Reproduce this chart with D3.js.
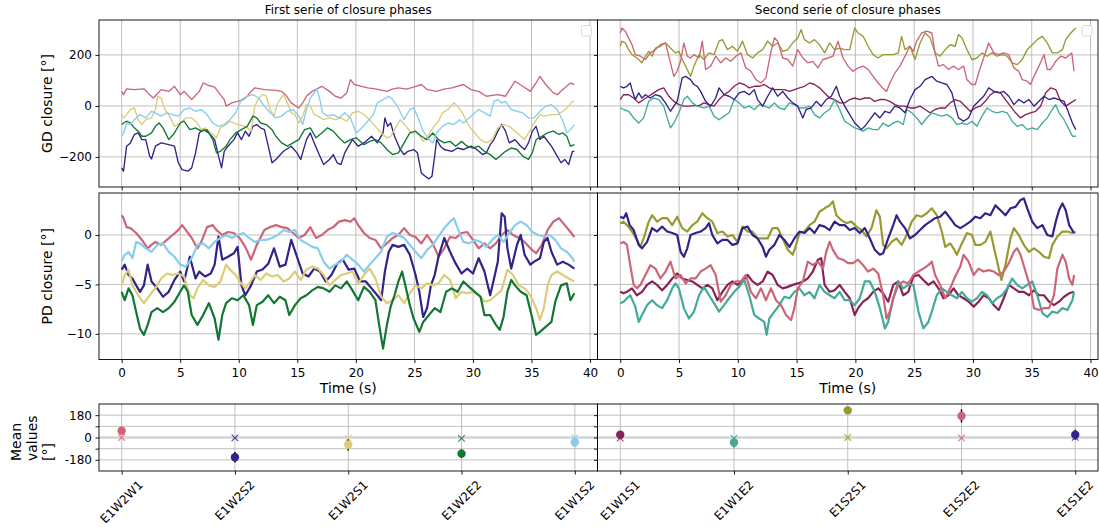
<!DOCTYPE html>
<html><head><meta charset="utf-8">
<script src="https://cdn.jsdelivr.net/npm/d3@7"></script>
<style>body{margin:0;background:#fff}svg text{font-family:"DejaVu Sans",sans-serif}</style>
</head><body>
<script>
// ---------------- DATA ----------------
const titles = ["First serie of closure phases", "Second serie of closure phases"];
const catsL = ["E1W2W1","E1W2S2","E1W2S1","E1W2E2","E1W1S2"];
const catsR = ["E1W1S1","E1W1E2","E1S2S1","E1S2E2","E1S1E2"];
const colorsL = ["#CC6677","#332288","#DDCC77","#117733","#88CCEE"];
const colorsR = ["#882255","#44AA99","#999933","#CC6677","#332288"];
const timeTicks = [0,5,10,15,20,25,30,35,40];
const gdTicks = [-200,0,200];
const pdTicks = [-10,-5,0];
const meanTicks = [-180,-90,0,90,180];
const meanTickLabels = ["-180","","0","","180"];

// GD closure [deg], first serie  ([time s, value])
const gdL_E1W2W1 = [[0,57],[0.16,44],[0.42,67],[1.08,64],[1.9,67],[2.39,44],[2.71,31],[3.37,64],[4.02,57],[4.51,77],[5.0,44],[5.33,57],[5.98,25],[6.63,57],[6.96,90],[7.45,80],[7.94,74],[8.43,44],[8.76,25],[8.92,-1],[9.41,12],[9.9,18],[10.39,25],[10.72,38],[11.05,57],[11.37,71],[12.19,64],[13.17,61],[13.66,57],[13.99,44],[14.48,12],[15.13,-8],[15.46,12],[15.78,38],[16.27,57],[17.09,77],[17.75,57],[18.24,38],[18.73,31],[19.22,51],[19.54,103],[19.87,84],[20.4,78],[21.01,71],[21.5,68],[21.99,64],[22.65,57],[23.1,66],[23.63,71],[24.3,66],[24.93,74],[25.59,84],[26.08,64],[26.9,57],[27.5,66],[28.2,71],[29.18,84],[29.84,64],[30.49,57],[31.14,38],[32.12,44],[32.78,38],[33.59,97],[34.25,77],[34.9,57],[35.39,90],[35.72,116],[36.21,84],[36.86,51],[37.19,44],[37.84,71],[38.33,90],[38.66,84]];
const gdL_E1W2S2 = [[0,-243],[0.16,-256],[0.42,-158],[0.75,-145],[1.08,-112],[1.41,-106],[1.73,-132],[2.06,-132],[2.39,-197],[2.55,-208],[2.88,-158],[3.37,-145],[4.02,-152],[4.51,-158],[4.84,-223],[5.16,-250],[5.65,-256],[5.98,-243],[6.31,-184],[6.63,-106],[6.96,-93],[7.45,-106],[7.94,-132],[8.27,-197],[8.53,-243],[8.76,-178],[9.08,-158],[9.58,-132],[9.9,-106],[10.23,-132],[10.56,-99],[10.88,-119],[11.21,-80],[11.54,-73],[11.86,-86],[12.19,-93],[12.52,-158],[12.84,-223],[13.17,-210],[13.82,-178],[14.48,-158],[14.97,-184],[15.29,-210],[15.78,-132],[16.11,-106],[16.44,-145],[16.93,-197],[17.25,-230],[17.75,-210],[18.07,-191],[18.4,-223],[18.73,-230],[19.05,-184],[19.38,-158],[19.71,-132],[20.2,-158],[20.69,-145],[21.34,-119],[21.83,-145],[22.32,-106],[22.48,-47],[22.71,-80],[22.97,-67],[23.3,-119],[23.79,-171],[24.12,-191],[24.44,-178],[24.93,-171],[25.26,-184],[25.59,-263],[25.92,-276],[26.24,-286],[26.5,-276],[26.73,-197],[26.9,-132],[27.22,-158],[27.55,-171],[28.2,-178],[28.69,-165],[29.18,-171],[29.84,-158],[30.33,-171],[30.82,-191],[31.14,-184],[31.47,-152],[31.8,-132],[32.12,-99],[32.45,-73],[32.78,-99],[33.1,-145],[33.59,-132],[34.08,-158],[34.41,-171],[34.74,-145],[35.07,-99],[35.39,-80],[35.72,-132],[36.05,-119],[36.7,-158],[37.19,-197],[37.52,-223],[37.84,-210],[38.17,-230],[38.5,-178],[38.66,-178]];
const gdL_E1W2S1 = [[0,-34],[0.16,-47],[0.42,-34],[0.75,-14],[1.08,-8],[1.41,-54],[1.73,-73],[2.06,-54],[2.55,-47],[2.88,-14],[3.1,38],[3.37,31],[3.69,-14],[4.02,-34],[4.51,-80],[5.0,-67],[5.49,-47],[5.98,-47],[6.47,-67],[6.8,-93],[7.12,-86],[7.45,-99],[7.78,-112],[8.1,-125],[8.43,-86],[8.92,-73],[9.25,-60],[9.9,-73],[10.56,-80],[11.05,-99],[11.37,-1],[11.7,31],[12.03,44],[12.35,38],[12.68,-14],[13.01,-40],[13.33,12],[13.82,44],[14.15,12],[14.48,-27],[14.8,-34],[15.13,-67],[15.46,-40],[15.78,5],[16.11,-1],[16.44,-34],[16.76,-40],[17.25,-54],[17.75,-47],[18.24,-54],[18.73,-47],[19.22,-60],[19.71,-27],[20.2,-21],[20.69,-34],[21.18,-54],[21.67,-80],[22.16,-106],[22.65,-125],[22.97,-119],[23.3,-93],[23.79,-54],[24.28,-80],[24.77,-106],[25.26,-106],[25.75,-139],[26.08,-125],[26.57,-86],[27.06,-60],[27.39,-27],[27.88,-14],[28.37,12],[28.69,-1],[29.18,-34],[29.67,-80],[30.16,-106],[30.65,-132],[31.14,-145],[31.63,-132],[32.12,-86],[32.61,-73],[33.1,-80],[33.59,-99],[34.08,-119],[34.41,-132],[34.74,-106],[35.23,-67],[35.72,-34],[36.05,-40],[36.7,-34],[37.19,-34],[37.68,-21],[38.17,-1],[38.5,18],[38.66,18]];
const gdL_E1W2E2 = [[0,-73],[0.16,-67],[0.42,-60],[0.75,-67],[1.08,-86],[1.41,-99],[1.73,-119],[2.06,-119],[2.55,-106],[2.88,-80],[3.2,-67],[3.53,-86],[4.02,-132],[4.51,-106],[5.0,-67],[5.33,-60],[5.82,-93],[6.31,-86],[6.8,-99],[7.29,-93],[7.78,-132],[8.1,-184],[8.43,-178],[8.92,-158],[9.25,-132],[9.74,-106],[10.23,-93],[10.72,-80],[11.21,-40],[11.54,-47],[11.86,-67],[12.35,-73],[12.84,-93],[13.17,-119],[13.66,-145],[14.15,-158],[14.64,-145],[15.13,-132],[15.62,-93],[16.11,-86],[16.6,-125],[17.09,-106],[17.58,-86],[18.07,-99],[18.56,-125],[19.05,-145],[19.54,-132],[20.03,-125],[20.69,-152],[21.18,-139],[21.67,-132],[22.16,-145],[22.65,-171],[23.14,-191],[23.63,-184],[24.12,-145],[24.61,-106],[25.1,-99],[25.59,-119],[26.08,-132],[26.57,-106],[27.06,-132],[27.55,-145],[28.04,-139],[28.53,-158],[29.02,-139],[29.51,-158],[30.0,-165],[30.49,-158],[30.98,-178],[31.47,-191],[31.96,-210],[32.29,-197],[32.78,-178],[33.27,-165],[33.76,-171],[34.25,-197],[34.74,-210],[35.07,-184],[35.39,-132],[35.88,-119],[36.37,-106],[36.86,-99],[37.35,-112],[37.68,-106],[38.01,-119],[38.33,-158],[38.66,-152]];
const gdL_E1W1S2 = [[0,-119],[0.16,-106],[0.42,-67],[0.75,-73],[1.08,-54],[1.57,-34],[2.06,-47],[2.55,-21],[2.88,-27],[3.37,-40],[3.86,-27],[4.35,-34],[4.84,-40],[5.33,-14],[5.82,-8],[6.31,-21],[6.8,-14],[7.29,-34],[7.78,-67],[8.27,-80],[8.76,-73],[9.25,-54],[9.74,-27],[10.23,25],[10.72,38],[11.21,44],[11.7,31],[12.19,-1],[12.68,-27],[13.17,-47],[13.66,-40],[14.15,-21],[14.64,-14],[15.13,-40],[15.46,-73],[15.78,-14],[16.11,31],[16.44,51],[16.67,67],[16.93,25],[17.16,-27],[17.58,-40],[18.07,-34],[18.56,-47],[19.05,-27],[19.54,-47],[20.03,-106],[20.52,-86],[21.01,-60],[21.5,-34],[21.83,12],[22.32,25],[22.81,38],[23.14,25],[23.63,-8],[24.12,-54],[24.61,-14],[24.93,-8],[25.26,-40],[25.75,-99],[26.24,-132],[26.57,-145],[26.9,-106],[27.39,-80],[27.88,-67],[28.37,-73],[28.86,-54],[29.18,-67],[29.51,-54],[30.0,-34],[30.49,-14],[30.98,-27],[31.47,-40],[31.8,18],[32.12,25],[32.45,12],[32.78,18],[33.27,-14],[33.76,-21],[34.25,-27],[34.74,-47],[35.23,-47],[35.72,-21],[36.21,-1],[36.7,5],[37.19,-14],[37.68,-60],[38.01,-106],[38.33,-93],[38.66,-73]];

// GD closure [deg], second serie
const gdR_E1W1S1 = [[0,25],[0.28,44],[0.71,44],[1.14,31],[1.57,12],[1.99,25],[2.42,38],[2.85,51],[3.28,64],[3.7,71],[4.13,38],[4.56,18],[4.99,5],[5.41,-1],[5.84,-1],[6.27,1],[6.7,1],[7.12,12],[7.55,5],[7.98,-1],[8.4,25],[8.83,44],[9.26,57],[9.69,77],[10.11,90],[10.54,84],[10.97,71],[11.4,77],[11.82,77],[12.25,84],[12.68,71],[13.11,64],[13.53,64],[13.96,64],[14.39,57],[14.81,64],[15.24,71],[15.67,77],[16.1,90],[16.52,84],[16.95,71],[17.38,51],[17.81,31],[18.23,25],[18.66,12],[19.09,12],[19.52,25],[19.94,31],[20.37,25],[20.8,31],[21.23,31],[21.65,18],[22.08,25],[22.51,25],[22.93,18],[23.36,5],[23.79,-1],[24.22,-1],[24.64,-8],[25.07,-8],[25.5,-1],[25.93,-14],[26.35,-27],[26.78,-14],[27.21,-8],[27.64,-8],[28.06,12],[28.49,25],[28.92,18],[29.34,-1],[29.77,-21],[30.2,-8],[30.63,-1],[31.05,18],[31.48,44],[31.91,57],[32.34,51],[32.76,25],[33.19,-1],[33.62,-27],[34.05,-47],[34.47,-34],[34.9,-27],[35.33,-21],[35.75,-1],[36.18,51],[36.61,71],[37.04,64],[37.46,18],[37.89,-1],[38.32,12],[38.75,25]];
const gdR_E1W1E2 = [[0,-8],[0.28,-14],[0.71,-21],[1.14,-47],[1.57,-67],[1.99,-47],[2.42,18],[2.85,31],[3.28,25],[3.7,-1],[3.99,-47],[4.27,-86],[4.56,-67],[4.99,-27],[5.41,25],[5.7,38],[6.13,12],[6.55,-1],[7.12,-8],[7.55,-1],[7.98,-40],[8.4,-54],[8.83,-40],[9.26,-27],[9.69,25],[10.11,12],[10.54,-8],[10.97,-1],[11.4,-14],[11.82,5],[12.25,-1],[12.68,-8],[13.11,12],[13.53,-8],[13.96,-14],[14.39,12],[14.81,5],[15.24,-8],[15.67,-8],[16.1,-1],[16.52,-34],[16.95,-47],[17.38,-27],[17.81,-14],[18.23,25],[18.66,-14],[19.09,-60],[19.52,-73],[19.94,-86],[20.37,-93],[20.66,-99],[21.08,-86],[21.51,-93],[21.94,-93],[22.36,-67],[22.79,-80],[23.22,-67],[23.65,-60],[24.07,-73],[24.36,-14],[24.79,-27],[25.21,-47],[25.64,-73],[26.07,-47],[26.5,-27],[26.92,-34],[27.35,-40],[27.78,-34],[28.21,-47],[28.63,-73],[29.06,-67],[29.49,-73],[29.91,-60],[30.34,-80],[30.77,-40],[31.2,-8],[31.62,-21],[32.05,-27],[32.48,-21],[32.91,-27],[33.33,-60],[33.76,-80],[34.19,-73],[34.62,-93],[35.04,-86],[35.47,-93],[35.9,-67],[36.32,-47],[36.75,-14],[37.04,5],[37.32,-27],[37.75,-54],[38.18,-93],[38.46,-119],[38.75,-119]];
const gdR_E1S2S1 = [[0,234],[0.14,254],[0.43,247],[0.71,221],[1.0,201],[1.42,188],[1.85,169],[2.14,195],[2.42,214],[2.71,195],[2.99,227],[3.42,234],[3.85,247],[4.27,227],[4.7,208],[4.99,214],[5.27,182],[5.7,143],[5.98,116],[6.27,156],[6.7,201],[7.12,182],[7.55,208],[7.98,201],[8.4,254],[8.69,260],[9.12,221],[9.54,234],[9.97,214],[10.4,254],[10.83,201],[11.25,188],[11.68,208],[12.11,221],[12.54,254],[12.96,234],[13.39,247],[13.82,214],[14.25,221],[14.67,247],[15.1,267],[15.38,299],[15.67,260],[16.1,247],[16.52,260],[16.95,240],[17.38,208],[17.81,247],[18.23,221],[18.66,227],[19.09,221],[19.52,221],[19.94,306],[20.23,286],[20.66,273],[21.08,234],[21.51,201],[21.94,188],[22.36,201],[22.79,201],[23.22,201],[23.65,208],[23.93,273],[24.22,221],[24.64,234],[25.07,182],[25.5,247],[25.93,286],[26.35,267],[26.78,208],[27.21,195],[27.64,221],[28.06,240],[28.49,234],[28.77,280],[29.06,267],[29.49,221],[29.91,182],[30.34,188],[30.77,208],[31.2,195],[31.62,208],[32.05,195],[32.48,201],[32.91,195],[33.33,169],[33.76,162],[34.19,182],[34.62,221],[35.04,240],[35.47,260],[35.9,273],[36.32,247],[36.75,208],[37.18,208],[37.61,221],[37.89,260],[38.32,286],[38.75,306]];
const gdR_E1S2E2 = [[0,286],[0.14,306],[0.43,293],[0.71,267],[1.0,240],[1.28,201],[1.71,195],[2.14,182],[2.56,208],[2.99,221],[3.42,240],[3.85,247],[4.27,169],[4.56,116],[4.84,136],[5.13,175],[5.41,247],[5.7,195],[5.98,188],[6.27,201],[6.7,188],[6.98,254],[7.26,143],[7.69,156],[8.12,195],[8.55,169],[8.97,188],[9.4,175],[9.83,195],[10.26,208],[10.68,149],[11.11,136],[11.54,103],[11.97,90],[12.39,110],[12.82,214],[13.11,267],[13.39,254],[13.82,188],[14.25,182],[14.67,156],[15.1,221],[15.53,188],[15.95,169],[16.38,175],[16.81,149],[17.24,182],[17.66,188],[18.09,195],[18.52,254],[18.95,188],[19.37,156],[19.8,136],[20.23,149],[20.66,156],[21.08,143],[21.51,116],[21.94,90],[22.36,68],[22.65,57],[22.93,90],[23.36,129],[23.79,156],[24.22,195],[24.64,234],[24.93,214],[25.21,254],[25.64,286],[26.07,293],[26.5,286],[26.78,208],[27.07,156],[27.49,162],[27.92,143],[28.35,156],[28.77,143],[29.2,156],[29.49,103],[29.91,84],[30.2,84],[30.48,129],[30.91,188],[31.34,247],[31.77,208],[32.19,201],[32.62,208],[33.05,201],[33.48,149],[33.9,136],[34.19,103],[34.62,97],[34.9,84],[35.19,116],[35.61,156],[36.04,201],[36.32,143],[36.61,143],[37.04,175],[37.46,195],[37.89,188],[38.4,208],[38.6,136]];
const gdR_E1S1E2 = [[0,77],[0.28,71],[0.57,77],[0.85,90],[1.0,64],[1.28,25],[1.57,51],[1.85,31],[2.14,44],[2.56,31],[2.99,44],[3.42,38],[3.85,12],[4.27,-21],[4.56,-1],[4.84,18],[5.27,110],[5.56,116],[5.98,103],[6.27,84],[6.55,77],[6.84,57],[7.26,18],[7.69,-1],[8.12,31],[8.4,71],[8.83,44],[9.26,38],[9.69,25],[10.11,51],[10.54,57],[10.97,44],[11.4,64],[11.68,25],[12.11,-1],[12.54,38],[12.96,71],[13.39,38],[13.82,57],[14.25,31],[14.67,12],[15.1,-1],[15.53,-47],[15.81,-14],[16.24,-8],[16.67,18],[17.09,-1],[17.52,25],[17.95,38],[18.38,77],[18.66,38],[19.09,-1],[19.52,-34],[19.94,-67],[20.23,-80],[20.51,-93],[20.8,-80],[21.23,-54],[21.65,-27],[22.08,-47],[22.51,-21],[22.93,-27],[23.36,-1],[23.79,-8],[24.22,-27],[24.64,25],[25.07,64],[25.5,77],[25.93,103],[26.5,116],[26.92,97],[27.35,90],[27.78,84],[28.21,51],[28.49,-1],[28.77,-47],[29.2,-60],[29.63,-47],[30.06,-1],[30.48,18],[30.91,38],[31.34,71],[31.77,57],[32.19,51],[32.62,57],[33.05,38],[33.48,5],[33.9,25],[34.33,12],[34.76,25],[35.19,-1],[35.61,18],[36.04,38],[36.47,25],[36.89,31],[37.32,25],[37.75,18],[38.03,-14],[38.46,-67],[38.75,-93]];

// PD closure [deg], first serie
const pdL_E1W2W1 = [[0,2.0],[0.16,1.7],[0.42,0.8],[0.75,0.7],[1.24,0.2],[1.73,-0.5],[2.22,-1.35],[2.55,-1.0],[2.88,-0.7],[3.37,-1.0],[3.86,-0.5],[4.35,0],[4.84,0.5],[5.16,1.0],[5.49,0.5],[5.98,-0.3],[6.47,-1.35],[6.8,-0.7],[7.29,0.8],[7.78,1.0],[8.1,0.5],[8.59,0],[9.08,0.3],[9.58,0.2],[10.07,-0.3],[10.56,-1.2],[11.05,-2.5],[11.54,-1.0],[12.19,0.5],[12.68,0.8],[13.17,1.0],[13.66,0.8],[14.15,0.7],[14.64,0.2],[15.13,-0.3],[15.62,0],[16.11,0.8],[16.6,-0.3],[17.09,0],[17.58,0.5],[18.07,0.8],[18.56,1.35],[19.05,1.5],[19.54,1.35],[19.87,1.7],[20.2,1.0],[20.69,0.2],[21.18,-0.3],[21.67,-0.5],[22.16,-1.35],[22.65,-0.85],[23.14,-0.3],[23.63,0],[24.12,0.7],[24.61,0],[25.1,-0.2],[25.59,-0.85],[26.08,0],[26.57,-0.85],[27.06,-2.2],[27.55,-1.35],[28.04,-0.2],[28.53,-0.3],[29.02,0.2],[29.51,0.3],[30.0,-0.5],[30.49,-1.35],[30.98,-0.85],[31.47,-1.35],[31.96,-0.85],[32.45,0],[32.94,0.5],[33.43,0],[33.92,-0.3],[34.41,-0.7],[34.9,-1.35],[35.39,-1.85],[35.88,-1.0],[36.37,0.5],[36.86,1.35],[37.35,1.7],[37.84,1.0],[38.33,0.3],[38.66,-0.2]];
const pdL_E1W2S2 = [[0,-3.5],[0.26,-3.0],[0.59,-4.05],[0.92,-4.4],[1.24,-5.1],[1.57,-5.75],[1.9,-5.1],[2.22,-3.0],[2.55,-4.7],[3.04,-5.4],[3.53,-6.25],[4.02,-5.75],[4.51,-4.55],[5.0,-3.7],[5.33,-4.7],[5.82,-2.2],[6.31,-4.4],[6.63,-3.7],[7.12,-4.2],[7.61,-3.9],[7.94,-3.0],[8.27,-0.15],[8.59,-2.5],[9.08,-2.2],[9.58,-1.85],[9.9,-1.2],[10.23,-5.1],[10.56,-6.1],[11.05,-5.1],[11.54,-3.7],[12.03,-3.5],[12.52,-2.9],[13.01,-1.35],[13.5,-3.2],[13.99,-3.0],[14.48,-0.5],[14.97,-2.2],[15.46,-3.9],[15.95,-4.2],[16.44,-3.4],[16.93,-3.7],[17.42,-4.7],[17.91,-4.05],[18.4,-2.9],[18.89,-2.5],[19.38,-3.5],[19.87,-3.4],[20.36,-4.7],[20.85,-4.7],[21.34,-5.4],[21.83,-6.1],[22.16,-6.6],[22.48,-3.7],[22.81,-1.7],[23.14,-1.0],[23.63,-1.2],[24.12,-1.0],[24.61,-2.0],[25.1,-4.05],[25.42,-5.75],[25.75,-8.3],[26.08,-7.4],[26.41,-5.1],[26.73,-4.05],[27.06,-2.2],[27.55,-0.3],[28.04,-1.7],[28.53,-2.9],[29.02,-3.9],[29.51,-3.4],[30.0,-3.9],[30.49,-2.35],[30.98,-3.7],[31.47,-6.1],[31.8,-4.4],[32.12,-2.7],[32.45,2.2],[32.71,1.85],[32.94,-1.35],[33.27,-3.4],[33.76,-1.0],[34.08,0],[34.41,-2.0],[34.9,-3.0],[35.23,-2.7],[35.72,-2.35],[36.05,-0.7],[36.37,-0.3],[36.7,-1.7],[37.19,-3.0],[37.68,-2.7],[38.17,-3.0],[38.66,-3.4]];
const pdL_E1W2S1 = [[0,-5.1],[0.26,-4.05],[0.59,-3.5],[0.92,-5.1],[1.41,-6.1],[1.9,-6.9],[2.39,-6.1],[2.88,-5.4],[3.37,-4.4],[3.86,-3.9],[4.35,-4.05],[4.84,-3.9],[5.33,-4.2],[5.82,-6.1],[6.14,-6.4],[6.47,-5.4],[6.96,-4.55],[7.45,-5.1],[7.94,-5.25],[8.43,-4.7],[8.92,-3.0],[9.25,-3.5],[9.74,-4.05],[10.07,-4.7],[10.56,-5.4],[10.88,-4.9],[11.37,-4.05],[11.86,-4.55],[12.35,-3.9],[12.84,-4.2],[13.33,-4.05],[13.82,-4.7],[14.31,-4.4],[14.8,-3.7],[15.29,-4.55],[15.78,-3.5],[16.27,-3.2],[16.76,-3.4],[17.25,-4.05],[17.75,-5.1],[18.24,-4.55],[18.73,-4.05],[19.22,-3.9],[19.71,-3.7],[20.2,-4.9],[20.69,-4.05],[21.18,-3.4],[21.67,-4.4],[22.16,-6.25],[22.65,-6.9],[23.14,-6.6],[23.63,-6.1],[24.12,-6.9],[24.61,-5.9],[25.1,-5.1],[25.59,-5.4],[26.08,-4.9],[26.57,-5.1],[27.06,-4.9],[27.55,-4.05],[28.04,-4.55],[28.53,-6.4],[29.02,-5.75],[29.51,-5.9],[30.0,-5.75],[30.49,-6.1],[30.98,-6.75],[31.47,-6.6],[31.96,-6.1],[32.45,-5.6],[32.94,-3.5],[33.43,-4.05],[33.92,-5.1],[34.41,-5.4],[34.9,-6.1],[35.39,-7.4],[35.72,-8.6],[36.05,-7.4],[36.37,-5.1],[36.7,-4.05],[37.19,-3.7],[37.68,-4.05],[38.17,-4.4],[38.66,-4.7]];
const pdL_E1W2E2 = [[0,-5.75],[0.26,-6.6],[0.59,-5.4],[0.92,-6.1],[1.24,-7.8],[1.57,-9.5],[1.9,-10.1],[2.22,-9.1],[2.55,-7.8],[3.04,-7.4],[3.53,-7.8],[4.02,-7.4],[4.51,-6.75],[5.0,-5.75],[5.33,-5.1],[5.65,-5.75],[5.98,-8.1],[6.47,-9.1],[6.96,-8.1],[7.45,-6.9],[7.94,-8.45],[8.27,-10.6],[8.59,-8.1],[8.92,-6.9],[9.41,-6.4],[9.9,-6.6],[10.39,-6.1],[10.88,-7.1],[11.21,-9.1],[11.54,-7.1],[12.03,-6.75],[12.52,-6.1],[13.01,-6.9],[13.5,-6.25],[13.99,-6.6],[14.31,-8.1],[14.8,-7.1],[15.29,-6.4],[15.78,-6.1],[16.27,-5.6],[16.76,-5.25],[17.25,-5.4],[17.75,-5.75],[18.24,-5.1],[18.73,-5.4],[19.22,-4.7],[19.71,-5.6],[20.2,-6.6],[20.69,-5.25],[21.18,-5.75],[21.67,-6.6],[21.99,-9.1],[22.32,-11.5],[22.65,-9.1],[22.97,-7.25],[23.3,-6.1],[23.63,-4.7],[23.95,-3.7],[24.28,-5.4],[24.61,-7.1],[24.93,-8.45],[25.42,-9.8],[25.75,-8.8],[26.24,-8.1],[26.73,-7.4],[27.22,-7.8],[27.71,-5.75],[28.2,-5.4],[28.69,-5.75],[29.18,-4.7],[29.67,-5.25],[30.16,-5.75],[30.65,-6.25],[30.98,-8.1],[31.47,-8.1],[31.96,-9.1],[32.29,-9.6],[32.61,-8.3],[32.94,-5.75],[33.27,-4.55],[33.59,-5.1],[34.08,-5.75],[34.58,-6.1],[35.07,-8.45],[35.39,-10.1],[35.72,-9.8],[36.21,-9.3],[36.7,-8.8],[37.03,-6.75],[37.52,-5.1],[38.01,-4.9],[38.33,-6.6],[38.66,-5.9]];
const pdL_E1W1S2 = [[0,-2.7],[0.26,-2.0],[0.59,-1.7],[0.92,-2.35],[1.24,-0.7],[1.57,-0.85],[2.06,-1.35],[2.55,-1.7],[3.04,-1.0],[3.53,-0.85],[4.02,-1.7],[4.51,-2.2],[5.0,-3.0],[5.49,-3.2],[5.98,-2.35],[6.47,-1.0],[6.96,-0.85],[7.45,-1.35],[7.94,-0.7],[8.43,-0.3],[8.92,0],[9.41,-0.3],[9.9,0],[10.39,0.2],[10.88,-0.3],[11.37,-0.7],[11.86,-0.5],[12.35,-0.5],[12.84,-0.3],[13.33,0],[13.82,0.5],[14.31,0.3],[14.8,0.5],[15.29,-0.5],[15.78,-0.85],[16.27,-1.2],[16.76,-1.35],[17.25,-2.7],[17.75,-3.4],[18.24,-3.0],[18.73,-2.7],[19.22,-2.0],[19.71,-2.5],[20.2,-3.0],[20.69,-3.7],[21.18,-3.0],[21.67,-2.35],[22.16,-1.7],[22.65,-0.15],[23.14,0.2],[23.63,0],[24.12,-0.3],[24.61,-1.0],[25.1,-1.7],[25.59,-2.35],[26.08,-1.5],[26.57,-1.0],[27.06,-0.15],[27.55,0.7],[28.04,1.35],[28.37,1.7],[28.69,0.7],[29.18,-0.7],[29.67,-0.85],[30.16,-0.5],[30.65,-0.7],[31.14,-1.2],[31.63,-0.5],[32.12,0],[32.61,-0.7],[33.1,0.2],[33.59,1.0],[34.08,1.35],[34.58,1.0],[35.07,0.3],[35.56,0],[36.05,-0.15],[36.54,0],[37.03,-0.5],[37.52,-1.35],[38.01,-1.7],[38.5,-2.35],[38.66,-2.7]];

// PD closure [deg], second serie
const pdR_E1W1S1 = [[0,-5.75],[0.28,-5.9],[0.57,-5.75],[1.0,-5.4],[1.42,-6.1],[1.85,-5.75],[2.28,-5.05],[2.71,-4.7],[3.13,-5.05],[3.56,-5.6],[3.99,-5.05],[4.42,-4.4],[4.84,-3.9],[5.27,-4.4],[5.7,-4.55],[6.13,-4.7],[6.55,-5.05],[6.98,-5.4],[7.41,-5.05],[7.83,-5.4],[8.26,-6.6],[8.69,-5.75],[9.12,-5.05],[9.54,-4.7],[9.97,-5.05],[10.4,-4.7],[10.83,-4.05],[11.25,-4.7],[11.68,-5.05],[12.11,-4.7],[12.54,-3.7],[12.96,-4.05],[13.39,-5.05],[13.82,-5.4],[14.25,-5.25],[14.67,-5.05],[15.1,-4.9],[15.53,-4.7],[15.95,-4.4],[16.38,-3.7],[16.81,-2.5],[17.09,-2.35],[17.38,-5.05],[17.81,-5.75],[18.23,-5.6],[18.66,-5.05],[19.09,-5.75],[19.52,-6.4],[19.94,-8.1],[20.23,-7.4],[20.66,-6.75],[21.08,-6.4],[21.51,-5.75],[21.94,-5.4],[22.36,-5.9],[22.79,-6.75],[23.22,-5.05],[23.65,-4.7],[24.07,-6.1],[24.5,-5.75],[24.93,-4.2],[25.36,-4.05],[25.78,-4.55],[26.21,-5.05],[26.64,-4.7],[27.07,-5.4],[27.49,-6.4],[27.92,-6.1],[28.35,-5.4],[28.77,-6.1],[29.2,-6.4],[29.63,-6.75],[30.06,-7.25],[30.48,-6.75],[30.91,-6.1],[31.34,-6.4],[31.77,-7.1],[32.19,-7.6],[32.62,-6.4],[33.05,-5.05],[33.48,-5.4],[33.9,-5.75],[34.33,-5.75],[34.76,-6.1],[35.19,-5.6],[35.61,-6.1],[36.04,-6.1],[36.47,-6.75],[36.89,-7.1],[37.32,-6.75],[37.75,-6.25],[38.18,-5.9],[38.6,-5.75]];
const pdR_E1W1E2 = [[0,-6.9],[0.28,-6.75],[0.57,-6.4],[0.85,-6.1],[1.28,-7.25],[1.57,-8.8],[1.85,-8.1],[2.28,-7.1],[2.71,-6.6],[3.13,-7.1],[3.56,-7.4],[3.99,-6.6],[4.42,-5.4],[4.7,-4.9],[4.99,-5.4],[5.41,-7.4],[5.84,-8.45],[6.27,-7.75],[6.7,-6.1],[7.12,-5.25],[7.55,-6.1],[7.98,-6.9],[8.4,-7.75],[8.83,-7.1],[9.26,-6.4],[9.69,-5.75],[10.11,-5.25],[10.54,-4.55],[10.97,-6.1],[11.4,-8.1],[11.82,-8.45],[12.25,-8.8],[12.45,-10.1],[12.68,-8.45],[13.11,-7.75],[13.53,-7.1],[13.96,-6.25],[14.39,-6.4],[14.81,-5.75],[15.24,-5.4],[15.67,-6.1],[16.1,-5.75],[16.52,-6.4],[16.95,-5.05],[17.38,-5.75],[17.81,-6.1],[18.23,-6.4],[18.66,-5.75],[19.09,-6.6],[19.52,-6.6],[19.94,-7.1],[20.37,-6.4],[20.8,-4.7],[21.23,-4.7],[21.65,-5.75],[22.08,-7.4],[22.51,-9.45],[22.79,-8.8],[23.22,-6.4],[23.65,-4.7],[24.07,-5.4],[24.5,-5.05],[24.93,-5.05],[25.36,-7.75],[25.78,-9.45],[26.21,-8.8],[26.5,-7.75],[26.92,-6.1],[27.35,-5.4],[27.78,-5.75],[28.21,-6.1],[28.63,-6.4],[29.06,-5.75],[29.49,-6.4],[29.91,-6.75],[30.34,-6.4],[30.77,-5.75],[31.2,-6.1],[31.62,-6.9],[32.05,-6.4],[32.48,-6.1],[32.91,-5.4],[33.33,-4.4],[33.76,-5.05],[34.19,-5.4],[34.62,-5.05],[35.04,-4.7],[35.47,-6.1],[35.9,-7.9],[36.32,-8.3],[36.75,-7.75],[37.18,-7.9],[37.61,-7.4],[38.03,-7.6],[38.46,-6.6],[38.6,-5.75]];
const pdR_E1S2S1 = [[0,1.2],[0.28,1.35],[0.57,1.0],[1.0,0.35],[1.42,-0.5],[1.71,-1.2],[1.99,-0.35],[2.42,1.35],[2.71,2.0],[3.13,1.35],[3.56,1.7],[3.99,1.7],[4.42,1.0],[4.84,1.85],[5.27,0.7],[5.7,0.35],[6.13,1.0],[6.55,1.35],[6.98,2.2],[7.41,1.7],[7.83,1.35],[8.26,0.2],[8.69,0.35],[9.12,-0.15],[9.54,0],[9.97,-0.7],[10.4,0.85],[10.83,0.35],[11.25,0.35],[11.68,-0.35],[12.11,-0.35],[12.54,-0.35],[12.96,0.7],[13.39,0.7],[13.82,-0.35],[14.25,-1.5],[14.67,-2.0],[14.96,-1.0],[15.24,0.2],[15.67,0.35],[16.1,1.0],[16.52,1.35],[16.95,2.35],[17.38,2.7],[17.81,3.0],[18.09,3.4],[18.38,2.0],[18.8,1.5],[19.23,1.2],[19.66,1.35],[20.09,0.85],[20.51,0.5],[20.94,-0.15],[21.37,0.7],[21.79,2.5],[22.08,1.85],[22.36,-1.0],[22.65,-1.35],[23.08,-0.7],[23.5,-0.35],[23.93,-1.0],[24.36,0],[24.79,1.35],[25.21,2.0],[25.64,1.85],[26.07,2.2],[26.5,2.7],[26.92,2.0],[27.35,0.35],[27.64,-1.2],[28.06,-0.85],[28.35,-1.35],[28.63,-2.0],[29.06,-0.85],[29.49,0.2],[29.91,0],[30.2,-1.0],[30.63,-1.0],[31.05,-0.7],[31.48,0.35],[31.77,-1.2],[32.19,-3.4],[32.42,-4.55],[32.76,-3.05],[33.19,-0.35],[33.48,0.7],[33.9,0],[34.33,-1.0],[34.76,-1.7],[35.19,-1.35],[35.61,-1.7],[36.04,-2.2],[36.47,-2.35],[36.75,-1.0],[37.18,-0.15],[37.61,0.35],[38.03,0.35],[38.46,0.2],[38.75,0.3]];
const pdR_E1S2E2 = [[0,-0.85],[0.28,-0.7],[0.57,-1.0],[0.85,-3.05],[1.14,-5.05],[1.42,-5.4],[1.71,-5.05],[2.14,-4.05],[2.56,-3.05],[2.99,-3.4],[3.42,-4.4],[3.85,-3.7],[4.27,-2.7],[4.7,-4.4],[5.13,-4.05],[5.56,-4.9],[5.98,-4.4],[6.41,-4.4],[6.84,-3.7],[7.26,-3.4],[7.69,-3.05],[8.12,-4.05],[8.55,-6.75],[8.97,-6.1],[9.4,-5.05],[9.83,-4.7],[10.26,-4.7],[10.68,-4.05],[11.11,-5.75],[11.54,-6.4],[11.97,-5.4],[12.39,-6.6],[12.82,-5.4],[13.25,-6.6],[13.68,-7.1],[14.1,-8.1],[14.53,-8.6],[14.81,-7.4],[15.1,-5.4],[15.53,-4.7],[15.95,-2.7],[16.38,-3.05],[16.81,-2.7],[17.24,-3.4],[17.52,-1.7],[17.81,-0.7],[18.09,-1.5],[18.52,-2.35],[18.95,-2.5],[19.37,-2.85],[19.8,-2.85],[20.23,-2.5],[20.66,-3.05],[21.08,-3.7],[21.51,-3.4],[21.94,-3.9],[22.36,-6.1],[22.65,-8.45],[22.93,-7.75],[23.22,-6.4],[23.65,-5.05],[24.07,-4.7],[24.5,-4.9],[24.93,-4.05],[25.36,-3.7],[25.78,-3.4],[26.21,-3.05],[26.5,-2.7],[26.78,-4.05],[27.21,-5.05],[27.64,-6.4],[28.06,-5.4],[28.49,-4.2],[28.92,-3.2],[29.2,-2.0],[29.63,-2.7],[30.06,-4.05],[30.48,-3.4],[30.91,-3.7],[31.34,-3.55],[31.77,-3.7],[32.19,-4.05],[32.62,-3.7],[33.05,-2.85],[33.48,-1.7],[33.76,-1.35],[34.05,-2.0],[34.47,-3.7],[34.9,-5.4],[35.19,-7.4],[35.61,-7.6],[36.04,-7.4],[36.47,-7.4],[36.89,-6.1],[37.18,-3.4],[37.61,-2.0],[37.89,-2.7],[38.18,-4.4],[38.46,-5.05],[38.6,-4.05]];
const pdR_E1S1E2 = [[0,1.85],[0.28,1.7],[0.51,2.2],[0.8,1.0],[1.14,0.5],[1.57,-1.0],[1.85,-1.35],[2.28,-0.7],[2.71,0.7],[3.13,0.35],[3.56,0.85],[3.99,0.35],[4.42,0.2],[4.84,0],[5.13,-1.7],[5.41,-2.2],[5.7,-1.35],[5.98,0],[6.41,0.2],[6.84,0.35],[7.26,0.7],[7.55,1.2],[7.83,0],[8.26,-0.85],[8.69,-0.5],[9.12,-0.5],[9.54,-1.0],[9.97,-0.85],[10.4,0.7],[10.83,0.85],[11.25,0],[11.68,-0.35],[12.11,-1.2],[12.39,-2.2],[12.68,-1.5],[13.11,-1.0],[13.53,0],[13.96,-0.5],[14.39,-1.2],[14.81,-0.35],[15.24,0.35],[15.67,0.2],[16.1,0.7],[16.52,0.2],[16.95,1.0],[17.38,0.85],[17.81,0.5],[18.23,1.35],[18.66,1.0],[19.09,1.0],[19.52,0.5],[19.94,0.7],[20.37,0.2],[20.8,0.7],[21.23,-0.35],[21.65,-1.5],[22.08,-2.0],[22.36,-1.85],[22.79,-0.35],[23.22,1.0],[23.5,2.0],[23.79,1.35],[24.22,0.7],[24.64,-0.35],[25.07,0],[25.5,0.5],[25.93,1.0],[26.35,1.35],[26.78,1.7],[27.21,1.85],[27.64,2.35],[28.06,1.7],[28.49,1.0],[28.92,0.7],[29.34,1.0],[29.77,1.35],[30.2,1.85],[30.63,1.7],[31.05,2.2],[31.48,2.0],[31.91,3.0],[32.34,2.5],[32.76,2.0],[33.19,2.7],[33.62,2.85],[34.05,3.55],[34.33,3.7],[34.62,2.7],[35.04,1.35],[35.47,0.7],[35.9,1.0],[36.32,0],[36.75,-0.15],[37.04,1.35],[37.32,2.5],[37.61,3.2],[37.89,2.5],[38.18,1.0],[38.6,0.2]];

// Mean values [deg]: GD mean (dot) with error, PD mean (cross)
const gdMeanL = [54,-159,-59,-130,-38];
const gdErrL  = [28,43,45,35,33];
const pdMeanL = [-0.2,-3.2,-5,-7,-1];
const gdMeanR = [22,-40,219,174,22];
const gdErrR  = [28,38,28,53,40];
const pdMeanR = [-5.5,-6.5,0.5,-4,0.8];

// ---------------- LAYOUT ----------------
const W = 1099, H = 527;
const colX = [[99,597.5],[597.5,1098]];
const rowGD = [20,187], rowPD = [193,359.5], rowM = [404,471];
const FONT = '"DejaVu Sans", sans-serif';

const svg = d3.select("body").append("svg").attr("width",W).attr("height",H);
const defs = svg.append("defs");

const seriesGD = [[gdL_E1W2W1,gdL_E1W2S2,gdL_E1W2S1,gdL_E1W2E2,gdL_E1W1S2],[gdR_E1W1S1,gdR_E1W1E2,gdR_E1S2S1,gdR_E1S2E2,gdR_E1S1E2]];
const seriesPD = [[pdL_E1W2W1,pdL_E1W2S2,pdL_E1W2S1,pdL_E1W2E2,pdL_E1W1S2],[pdR_E1W1S1,pdR_E1W1E2,pdR_E1S2S1,pdR_E1S2E2,pdR_E1S1E2]];
const colorSets = [colorsL, colorsR];
const catSets = [catsL, catsR];
const meanSets = [[gdMeanL,gdErrL,pdMeanL],[gdMeanR,gdErrR,pdMeanR]];

const yGD = d3.scaleLinear().domain([-318,337]).range([rowGD[1],rowGD[0]]);
const yPD = d3.scaleLinear().domain([-12.6,4.25]).range([rowPD[1],rowPD[0]]);
const yM  = d3.scaleLinear().domain([-270,270]).range([rowM[1],rowM[0]]);

let clipId = 0;
function panel(x0,x1,y0,y1){
  const id = "clip"+(clipId++);
  defs.append("clipPath").attr("id",id).append("rect").attr("x",x0).attr("y",y0).attr("width",x1-x0).attr("height",y1-y0);
  const g = svg.append("g");
  return {g, clip:"url(#"+id+")"};
}
function styleAxis(sel){
  sel.select(".domain").remove();
  sel.selectAll(".tick line").attr("stroke","#000").attr("stroke-width",0.9);
  sel.selectAll(".tick text").attr("font-family",FONT).attr("font-size",12).attr("fill","#000");
}
function spines(g,x0,x1,y0,y1){
  g.append("rect").attr("x",x0).attr("y",y0).attr("width",x1-x0).attr("height",y1-y0)
    .attr("fill","none").attr("stroke","#000").attr("stroke-width",0.9);
}

[0,1].forEach(c=>{
  const [x0,x1] = colX[c];
  const xT = d3.scaleLinear().domain([-1.935,40.635]).range([x0,x1]);
  const xC = d3.scaleLinear().domain([-0.2,4.2]).range([x0,x1]);

  // ---- time-series panels ----
  [[rowGD,yGD,seriesGD[c],gdTicks,1.35,false],[rowPD,yPD,seriesPD[c],pdTicks,2.2,true]].forEach(([row,y,series,ticks,lw,labels])=>{
    const {g,clip} = panel(x0,x1,row[0],row[1]);
    const grid = g.append("g");
    timeTicks.forEach(t=>grid.append("line").attr("x1",xT(t)).attr("x2",xT(t)).attr("y1",row[0]).attr("y2",row[1]).attr("stroke","#b0b0b0").attr("stroke-width",0.8));
    ticks.forEach(v=>grid.append("line").attr("x1",x0).attr("x2",x1).attr("y1",y(v)).attr("y2",y(v)).attr("stroke","#b0b0b0").attr("stroke-width",0.8));
    const line = d3.line().x(d=>xT(d[0])).y(d=>y(d[1]));
    const lg = g.append("g").attr("clip-path",clip);
    series.forEach((s,i)=>lg.append("path").attr("d",line(s)).attr("fill","none").attr("stroke",colorSets[c][i]).attr("stroke-width",lw).attr("stroke-linejoin","round"));
    spines(g,x0,x1,row[0],row[1]);
    const ax = g.append("g").attr("transform",`translate(0,${row[1]})`)
      .call(d3.axisBottom(xT).tickValues(timeTicks).tickSize(3.5).tickPadding(5.5).tickFormat(labels?d3.format("d"):()=>""));
    styleAxis(ax);
    const ay = g.append("g").attr("transform",`translate(${x0},0)`)
      .call(d3.axisLeft(y).tickValues(ticks).tickSize(3.5).tickPadding(3.5).tickFormat(c===0?d3.format("d"):()=>""));
    styleAxis(ay);
    if(!labels){
      g.append("rect").attr("x",x1-16).attr("y",row[0]+5.5).attr("width",10).attr("height",10.5).attr("rx",2)
        .attr("fill","#fff").attr("stroke","#d6d6d6").attr("stroke-width",0.9);
    }
    if(labels){
      g.append("text").attr("x",(x0+x1)/2).attr("y",393).attr("text-anchor","middle")
        .attr("font-family",FONT).attr("font-size",14).text("Time (s)");
    }
  });

  // title
  svg.append("text").attr("x",(x0+x1)/2).attr("y",14).attr("text-anchor","middle")
    .attr("font-family",FONT).attr("font-size",12).text(titles[c]);

  // ---- mean panel ----
  const {g,clip} = panel(x0,x1,rowM[0],rowM[1]);
  const cats = catSets[c];
  cats.forEach((k,i)=>g.append("line").attr("x1",xC(i)).attr("x2",xC(i)).attr("y1",rowM[0]).attr("y2",rowM[1]).attr("stroke","#b0b0b0").attr("stroke-width",0.8));
  meanTicks.forEach(v=>g.append("line").attr("x1",x0).attr("x2",x1).attr("y1",yM(v)).attr("y2",yM(v)).attr("stroke","#b0b0b0").attr("stroke-width",0.8));
  g.append("line").attr("x1",x0).attr("x2",x1).attr("y1",yM(0)).attr("y2",yM(0)).attr("stroke","#d3d3d3").attr("stroke-width",2.5);
  const [gm,ge,pm] = meanSets[c];
  const mg = g.append("g").attr("clip-path",clip);
  cats.forEach((k,i)=>{
    mg.append("line").attr("x1",xC(i)).attr("x2",xC(i)).attr("y1",yM(gm[i]-ge[i])).attr("y2",yM(gm[i]+ge[i])).attr("stroke","#000").attr("stroke-width",1.5);
    mg.append("circle").attr("cx",xC(i)).attr("cy",yM(gm[i])).attr("r",4.2).attr("fill",colorSets[c][i]);
  });
  cats.forEach((k,i)=>{
    const cx = xC(i), cy = yM(pm[i]), s=3.3;
    mg.append("path").attr("d",`M${cx-s},${cy-s}L${cx+s},${cy+s}M${cx-s},${cy+s}L${cx+s},${cy-s}`)
      .attr("stroke",colorSets[c][i]).attr("stroke-width",1.1).attr("opacity",0.85);
  });
  spines(g,x0,x1,rowM[0],rowM[1]);
  const ax = g.append("g").attr("transform",`translate(0,${rowM[1]})`)
    .call(d3.axisBottom(xC).tickValues(d3.range(cats.length)).tickSize(3.5).tickFormat(()=>""));
  styleAxis(ax);
  const ay = g.append("g").attr("transform",`translate(${x0},0)`)
    .call(d3.axisLeft(yM).tickValues(meanTicks).tickSize(3.5).tickPadding(3.5).tickFormat((d,i)=>c===0?meanTickLabels[i]:""));
  styleAxis(ay);
  // rotated category labels (centered bbox under tick)
  cats.forEach((k,i)=>{
    const t = svg.append("text").attr("font-family",FONT).attr("font-size",12)
      .attr("text-anchor","middle").attr("dominant-baseline","central").text(k);
    const w = t.node().getComputedTextLength();
    const bh = (w+11)*Math.SQRT1_2;
    t.attr("transform",`translate(${xC(i)},${rowM[1]+8+bh/2}) rotate(-45)`);
  });
});

// y-axis labels
svg.append("text").attr("transform",`translate(52,${(rowGD[0]+rowGD[1])/2}) rotate(-90)`).attr("text-anchor","middle")
  .attr("font-family",FONT).attr("font-size",14).text("GD closure [°]");
svg.append("text").attr("transform",`translate(52,${(rowPD[0]+rowPD[1])/2}) rotate(-90)`).attr("text-anchor","middle")
  .attr("font-family",FONT).attr("font-size",14).text("PD closure [°]");
const ml = svg.append("text").attr("transform",`translate(0,461) rotate(-90)`).attr("text-anchor","start")
  .attr("font-family",FONT).attr("font-size",14);
["Mean","values","[°]"].forEach((s,i)=>ml.append("tspan").attr("x",0).attr("y",21+16*i).text(s));
</script>
</body></html>
